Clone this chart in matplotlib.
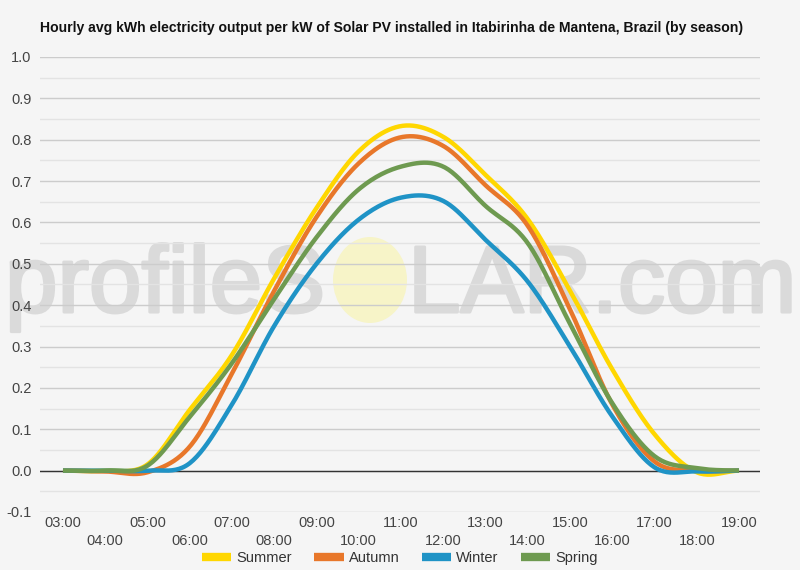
import numpy as np
import matplotlib
matplotlib.use("Agg")
import matplotlib.pyplot as plt
from matplotlib.patches import Ellipse
from matplotlib.lines import Line2D
import matplotlib.patheffects as pe

plt.rcParams['font.family'] = ['Liberation Sans', 'DejaVu Sans']

hours = list(range(3, 20))
tick_labels = [f"{h:02d}:00" for h in hours]
series_names = ["Summer", "Autumn", "Winter", "Spring"]
summer = [0, 0, 0.015, 0.147, 0.28, 0.465, 0.635, 0.772, 0.833, 0.807, 0.715, 0.608, 0.435, 0.245, 0.088, -0.004, 0]
autumn = [0, -0.002, -0.004, 0.058, 0.235, 0.435, 0.613, 0.743, 0.806, 0.785, 0.69, 0.592, 0.39, 0.16, 0.022, 0.0, 0]
winter = [0, 0, 0.0, 0.018, 0.16, 0.35, 0.5, 0.607, 0.66, 0.652, 0.558, 0.457, 0.30, 0.131, 0.008, -0.002, 0]
spring = [0, 0, 0.012, 0.13, 0.26, 0.415, 0.564, 0.68, 0.735, 0.735, 0.64, 0.55, 0.355, 0.163, 0.035, 0.006, 0]
colors = ["#FFD700", "#E8772A", "#1F93C6", "#6E9A50"]
title = "Hourly avg kWh electricity output per kW of Solar PV installed in Itabirinha de Mantena, Brazil (by season)"


def smooth(x, y, n=24):
    x = np.asarray(x, float)
    y = np.asarray(y, float)
    px = np.concatenate([[2 * x[0] - x[1]], x, [2 * x[-1] - x[-2]]])
    py = np.concatenate([[y[0]], y, [y[-1]]])
    xs, ys = [], []
    t = np.linspace(0, 1, n, endpoint=False)
    for i in range(1, len(px) - 2):
        p0, p1, p2, p3 = py[i - 1], py[i], py[i + 1], py[i + 2]
        a = 0.5 * (2 * p1 + (-p0 + p2) * t + (2 * p0 - 5 * p1 + 4 * p2 - p3) * t ** 2
                   + (-p0 + 3 * p1 - 3 * p2 + p3) * t ** 3)
        xs.append(px[i] + (px[i + 1] - px[i]) * t)
        ys.append(a)
    xs.append([x[-1]])
    ys.append([y[-1]])
    return np.concatenate(xs), np.concatenate(ys)


bg = "#F5F5F5"
fig = plt.figure(figsize=(8, 5.7), dpi=100, facecolor=bg)
ax = fig.add_axes([0.05, 0.1018, 0.90, 0.7982], facecolor=bg)

for v in np.arange(-0.1, 1.001, 0.1):
    ax.axhline(v, color="#CCCCCC", lw=1.0, zorder=1.6)
for v in np.arange(-0.05, 1.0, 0.1):
    ax.axhline(v, color="#E3E3E3", lw=1.0, zorder=1.6)
ax.axhline(0, color="#333333", lw=1.0, zorder=2)

# watermark (below data lines)
wm_y = 1 - 312 / 570
wm_col = "#DADADA"
wm_kw = dict(fontsize=68, color=wm_col, ha="left", va="baseline", zorder=1.5,
             transform=fig.transFigure, clip_on=False,
             path_effects=[pe.withStroke(linewidth=2.2, foreground=wm_col)])
ax.text(5 / 800, wm_y, "profileS", **wm_kw)
ax.text(408 / 800, wm_y, "LAR.com", **wm_kw)
ell = Ellipse((370 / 800, 1 - 280 / 570), 74 / 800, 86 / 570, transform=fig.transFigure,
              facecolor="#F7F4C8", edgecolor="none", zorder=1.55, clip_on=False)
ax.add_patch(ell)

for name, data, c in zip(series_names, [summer, autumn, winter, spring], colors):
    sx, sy = smooth(hours, data)
    ax.plot(sx, sy, color=c, lw=3.2, solid_capstyle="butt", zorder=3)

ax.set_xlim(2.456, 19.497)
ax.set_ylim(-0.1, 1.0)
for s in ax.spines.values():
    s.set_visible(False)
yt = np.round(np.arange(-0.1, 1.001, 0.1), 1)
ax.set_yticks(yt)
ax.set_yticklabels([f"{v:.1f}" for v in yt], color="#444444", fontsize=10.5)
ax.tick_params(axis="y", length=0, pad=6)
ax.set_xticks(hours)
ax.set_xticklabels([])
ax.tick_params(axis="x", length=0)
blend = ax.get_xaxis_transform().__class__(ax.transData, fig.transFigure)
for i, (h, lab) in enumerate(zip(hours, tick_labels)):
    ypix = 523 if i % 2 == 0 else 541
    ax.text(h, 1 - ypix / 570, lab, transform=blend,
            ha="center", va="center", fontsize=10.5, color="#444444")

fig.text(40 / 800, 1 - 28 / 570, title, fontsize=10.1, fontweight="bold", ha="left", va="center", color="#111111")

handles = [Line2D([0], [0], color=c, lw=6, solid_capstyle="butt") for c in colors]
fig.legend(handles, series_names, loc="center", bbox_to_anchor=(0.5, 1 - 558 / 570), ncol=4,
           frameon=False, fontsize=10.5, handlelength=2.0, columnspacing=1.55, handletextpad=0.35,
           labelcolor="#333333", borderpad=0, borderaxespad=0)

fig.savefig("out.png", dpi=100, facecolor=bg)
